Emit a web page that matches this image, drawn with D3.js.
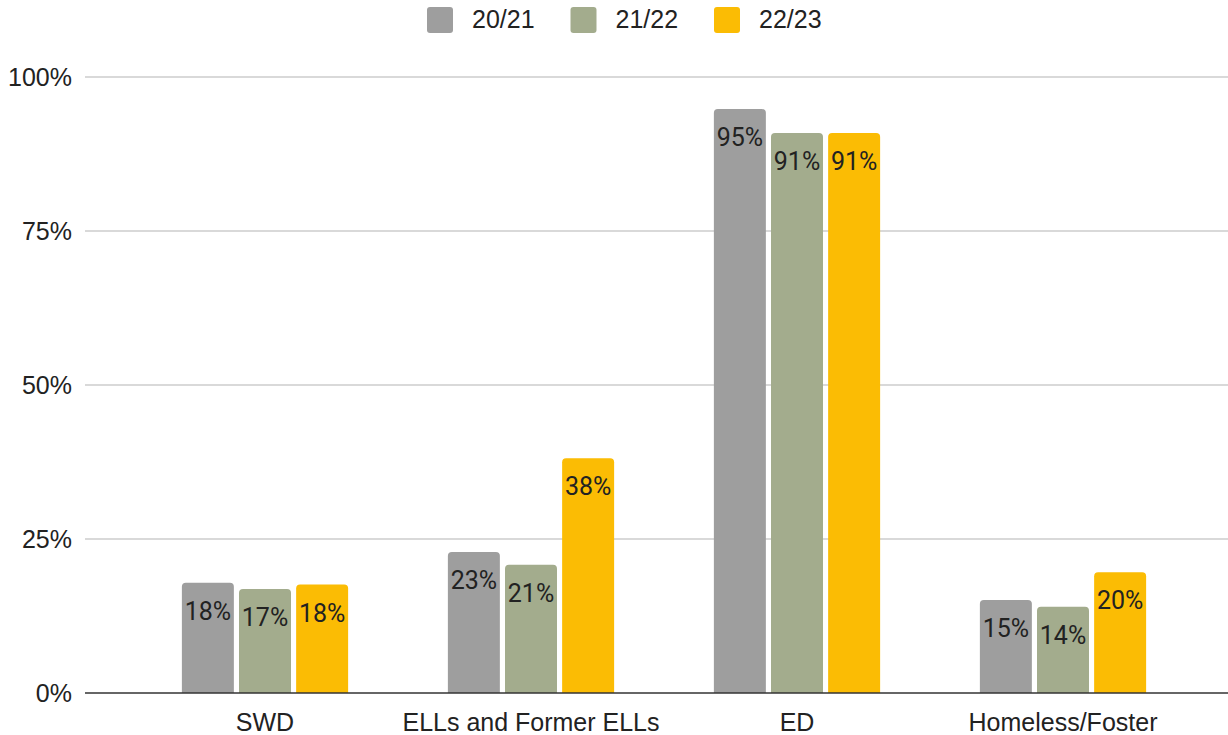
<!DOCTYPE html>
<html lang="en">
<head>
    <meta charset="UTF-8">
    <title>Student groups by year</title>
    <script src="https://d3js.org/d3.v7.min.js"></script>
    <style>
        body {
            margin: 0;
            background: #fff;
            font-family: Arial, "Liberation Sans", sans-serif;
        }
        .tick-label, .cat-label, .legend-label {
            font-size: 25px;
            fill: #222;
        }
        .bar-label {
            font-family: Roboto, sans-serif;
            font-size: 25px;
            fill: #222;
            text-anchor: middle;
        }
    </style>
</head>
<body>
    <div id="chart"></div>
    <script>
        // 数据
        const categories = ["SWD", "ELLs and Former ELLs", "ED", "Homeless/Foster"];
        const years = ["20/21", "21/22", "22/23"];
        const values2021 = [0.179, 0.229, 0.948, 0.151];
        const values2122 = [0.169, 0.208, 0.909, 0.140];
        const values2223 = [0.176, 0.381, 0.909, 0.196];
        const yTicks = [0, 0.25, 0.5, 0.75, 1];
        const colors = ["#9e9e9e", "#a3ac8d", "#fbbc04"];

        const seriesValues = [values2021, values2122, values2223];
        const data = categories.map((c, i) => ({
            cat: c,
            bars: years.map((yr, j) => ({ year: yr, value: seriesValues[j][i] }))
        }));

        const W = 1228, H = 735;
        const plotLeft = 85, plotRight = 1228;

        const svg = d3.select("#chart").append("svg")
            .attr("width", W)
            .attr("height", H);

        const x0 = d3.scaleBand()
            .domain(categories)
            .range([132, 1196])
            .paddingInner(0.375)
            .paddingOuter(0.1875);

        const x1 = d3.scaleBand()
            .domain(years)
            .range([0, x0.bandwidth()])
            .paddingInner(0.09);

        const y = d3.scaleLinear()
            .domain([0, 1])
            .range([693, 77]);

        const color = d3.scaleOrdinal().domain(years).range(colors);

        // 网格线
        svg.append("g")
            .selectAll("line")
            .data(yTicks.filter(d => d > 0))
            .join("line")
            .attr("x1", plotLeft)
            .attr("x2", plotRight)
            .attr("y1", d => y(d))
            .attr("y2", d => y(d))
            .attr("stroke", "#cccccc")
            .attr("stroke-width", 1.5);

        // y 轴标签
        svg.append("g")
            .selectAll("text")
            .data(yTicks)
            .join("text")
            .attr("class", "tick-label")
            .attr("x", 72)
            .attr("y", d => y(d) + 9)
            .attr("text-anchor", "end")
            .text(d3.format(".0%"));

        // 圆角柱子
        function barPath(x, top, w, bottom, r) {
            r = Math.min(r, bottom - top);
            return `M${x},${bottom}V${top + r}Q${x},${top} ${x + r},${top}H${x + w - r}Q${x + w},${top} ${x + w},${top + r}V${bottom}Z`;
        }

        const groups = svg.append("g")
            .selectAll("g")
            .data(data)
            .join("g")
            .attr("transform", d => `translate(${x0(d.cat)},0)`);

        groups.selectAll("path")
            .data(d => d.bars)
            .join("path")
            .attr("fill", d => color(d.year))
            .attr("d", d => barPath(x1(d.year), y(d.value), x1.bandwidth(), y(0), 4));

        groups.selectAll("text")
            .data(d => d.bars)
            .join("text")
            .attr("class", "bar-label")
            .attr("x", d => x1(d.year) + x1.bandwidth() / 2)
            .attr("y", d => y(d.value) + 37)
            .text(d => d3.format(".0%")(d.value));

        // 基线
        svg.append("line")
            .attr("x1", plotLeft)
            .attr("x2", plotRight)
            .attr("y1", y(0))
            .attr("y2", y(0))
            .attr("stroke", "#333")
            .attr("stroke-width", 1.5);

        // 分类标签
        svg.append("g")
            .selectAll("text")
            .data(categories)
            .join("text")
            .attr("class", "cat-label")
            .attr("x", d => x0(d) + x0.bandwidth() / 2)
            .attr("y", 731)
            .attr("text-anchor", "middle")
            .text(d => d);

        // 图例
        const legend = svg.append("g")
            .selectAll("g")
            .data(years)
            .join("g")
            .attr("transform", (d, i) => `translate(${427 + i * 143.5},7)`);

        legend.append("rect")
            .attr("width", 26)
            .attr("height", 26)
            .attr("rx", 3)
            .attr("fill", d => color(d));

        legend.append("text")
            .attr("class", "legend-label")
            .attr("x", 45)
            .attr("y", 21)
            .text(d => d);
    </script>
</body>
</html>
